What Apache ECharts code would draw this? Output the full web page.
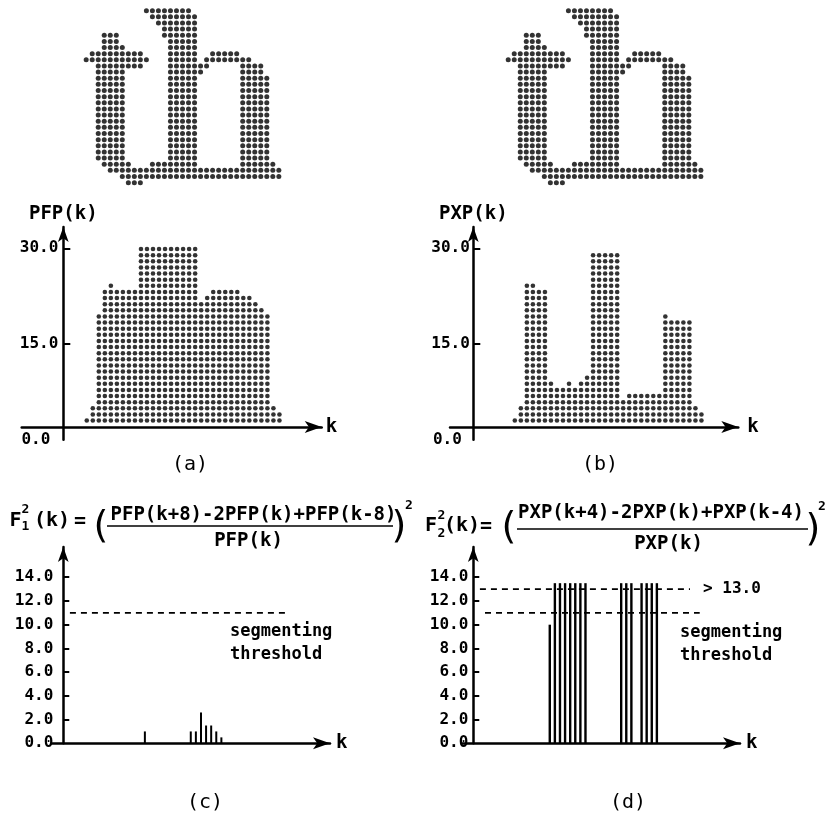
<!DOCTYPE html>
<html><head><meta charset="utf-8">
<script src="https://cdn.jsdelivr.net/npm/echarts@6/dist/echarts.min.js"></script>
<style>html,body{margin:0;padding:0;background:#fff}#c{width:829px;height:827px}</style>
</head><body><div id="c"></div>
<script>
// ---------------- data ----------------
// dot-matrix bitmap of the "th" glyph (# = dot), 33 columns x 29 rows
const GLYPH = [
"..........########...............",
"...........########..............",
"............#######..............",
".............######..............",
"...###.......######..............",
"...###........#####..............",
"...####.......#####..............",
".#########....#####..#####.......",
"###########...#####.########.....",
"..########....#######.....####...",
"..#####.......######......####...",
"..#####.......#####.......#####..",
"..#####.......#####.......#####..",
"..#####.......#####.......#####..",
"..#####.......#####.......#####..",
"..#####.......#####.......#####..",
"..#####.......#####.......#####..",
"..#####.......#####.......#####..",
"..#####.......#####.......#####..",
"..#####.......#####.......#####..",
"..#####.......#####.......#####..",
"..#####.......#####.......#####..",
"..#####.......#####.......#####..",
"..#####.......#####.......#####..",
"..#####.......#####.......#####..",
"...#####...########.......######.",
"....#############################",
"......###########################",
".......###......................."
];
// PFP(k), k = 0..32 (value of column top on the y axis)
const PFP = [2.9, 4.8, 19.7, 23.5, 24.4, 23.5, 23.5, 23.5, 23.5,
             30, 30, 30, 30, 30, 30, 30, 30, 30, 30,
             21.6, 22.5, 23.5, 23.5, 23.5, 23.5, 23.5, 22.5, 22.5,
             21.6, 20.7, 19.7, 4.8, 3.9];
// PXP(k), k = 3..34
const PXP_K0 = 3;
const PXP = [2.9, 4.8, 24.4, 24.4, 23.5, 23.5, 8.5, 7.6, 7.6, 8.5, 7.6, 8.5, 9.5,
             29.1, 29.1, 29.1, 29.1, 29.1, 5.7, 6.7, 6.7, 6.7, 6.7, 6.7, 6.7,
             19.7, 18.8, 17.9, 17.9, 17.9, 4.8, 3.9];
// F1^2(k)
const F1_K = [16, 25, 26, 27, 28, 29, 30, 31];
const F1_V = [1.0, 1.0, 1.0, 2.6, 1.5, 1.5, 1.0, 0.5];
// F2^2(k) (values above 13 are drawn clipped at 13.5)
const F2_K = [15, 16, 17, 18, 19, 20, 21, 22, 29, 30, 31, 33, 34, 35, 36];
const F2_V = [10.0, 13.5, 13.5, 13.5, 13.5, 13.5, 13.5, 13.5, 13.5, 13.5, 13.5, 13.5, 13.5, 13.5, 13.5];
const THRESHOLD = 11.0;
const F2_CAP = 13.0;
// tick labels
const TOP_TICKS = [0, 15, 30];
const BOTTOM_TICKS = [0, 2, 4, 6, 8, 10, 12, 14];

// ---------------- layout / style ----------------
const FONT = "'DejaVu Sans Mono', monospace";
const BASE = 2;          // level where the k axis is drawn in panels (a),(b)
const DOT_FIRST = 3;     // height of the lowest dot row
const DOT_STEP = 0.96;   // dot spacing in y units
const K_SHIFT = 3.9;     // k=0 position relative to the y axis
const GLYPH_SHIFT_A = 3.8, GLYPH_SHIFT_B = 5.8;

function glyphPoints(shift) {
  const pts = [];
  GLYPH.forEach((row, r) => {
    for (let c = 0; c < row.length; c++) if (row[c] === '#') pts.push([c + shift, r]);
  });
  return pts;
}
function histPoints(vals, k0) {
  const pts = [];
  vals.forEach((v, i) => {
    const n = Math.round((v - DOT_FIRST) / DOT_STEP) + 1;
    for (let j = 0; j < n; j++) pts.push([k0 + i + K_SHIFT, DOT_FIRST + j * DOT_STEP - BASE]);
  });
  return pts;
}

const AXLINE = {color: '#000', width: 2.5};
const NAMESTYLE = {fontFamily: FONT, fontWeight: 'bold', fontSize: 19, color: '#000'};
function topX(grid, min, max, gap) {
  return {gridIndex: grid, type: 'value', min, max,
    axisLine: {onZero: true, symbol: ['none', 'arrow'], symbolSize: [9, 17], lineStyle: AXLINE},
    axisTick: {show: false}, axisLabel: {show: false}, splitLine: {show: false},
    name: 'k', nameLocation: 'end', nameGap: gap, nameTextStyle: NAMESTYLE};
}
const TOP_YMAX = 31.34;
function topY(grid, name, margin) {
  return {gridIndex: grid, type: 'value', min: -BASE, max: TOP_YMAX,
    axisLine: {onZero: true, symbol: ['none', 'arrow'], symbolSize: [8, 15], lineStyle: AXLINE},
    axisTick: {inside: true, length: 7, lineStyle: {color: '#000', width: 2},
               customValues: TOP_TICKS.filter(v => v > 0).map(v => v - BASE)},
    axisLabel: {margin, customValues: TOP_TICKS.map(v => v - BASE),
      formatter: v => Math.abs(v + BASE) < 1e-9 ? '{z|0.0}' : (v + BASE).toFixed(1),
      fontFamily: FONT, fontWeight: 'bold', fontSize: 16, color: '#000',
      rich: {z: {fontFamily: FONT, fontWeight: 'bold', fontSize: 16, color: '#000', padding: [0, 8, 0, 0]}}},
    splitLine: {show: false},
    name, nameLocation: 'end', nameGap: 3, nameTextStyle: NAMESTYLE};
}
function botX(grid, gap) {
  return {gridIndex: grid, type: 'value', min: -2.27, max: 52.3,
    axisLine: {onZero: true, symbol: ['none', 'arrow'], symbolSize: [9, 17], lineStyle: AXLINE},
    axisTick: {show: false}, axisLabel: {show: false}, splitLine: {show: false},
    name: 'k', nameLocation: 'end', nameGap: gap, nameTextStyle: NAMESTYLE};
}
function botY(grid, margin) {
  return {gridIndex: grid, type: 'value', min: 0, max: 16.55,
    axisLine: {onZero: true, symbol: ['none', 'arrow'], symbolSize: [8, 15], lineStyle: AXLINE},
    axisTick: {inside: true, length: 6, lineStyle: {color: '#000', width: 2},
               customValues: BOTTOM_TICKS.filter(v => v > 0)},
    axisLabel: {margin, customValues: BOTTOM_TICKS, formatter: v => v.toFixed(1),
      fontFamily: FONT, fontWeight: 'bold', fontSize: 16, color: '#000'},
    splitLine: {show: false}};
}
const hidden = (grid, min, max, inverse) => ({gridIndex: grid, type: 'value', min, max, inverse: !!inverse, show: false});

function T(s, x, y, size, weight, align, family) {
  const f = family || FONT;
  return {type: 'text', x, y, silent: true,
    style: {text: s, fill: '#000', font: `${weight} ${size}px ${f}`,
      align: align, verticalAlign: 'middle', textAlign: align, textVerticalAlign: 'middle'}};
}
function L(x1, y1, x2, y2, w) {
  return {type: 'line', silent: true, shape: {x1, y1, x2, y2}, style: {stroke: '#000', lineWidth: w || 1.6}};
}
const PAREN = "'DejaVu Sans', sans-serif";

const graphics = [
  T('(a)', 190, 465, 20, 'normal', 'center'),
  T('(b)', 600, 465, 20, 'normal', 'center'),
  T('(c)', 205, 803, 20, 'normal', 'center'),
  T('(d)', 628, 803, 20, 'normal', 'center'),
  // formula (c)
  T('F', 15.5, 521, 20, 'bold', 'center'),
  T('2', 25.5, 510, 13, 'bold', 'center'),
  T('1', 25.5, 527, 13, 'bold', 'center'),
  T('(k)', 52, 521, 20, 'bold', 'center'),
  T('=', 80, 522, 20, 'bold', 'center'),
  T('(', 101, 527, 38, 'normal', 'center', PAREN),
  T('PFP(k+8)-2PFP(k)+PFP(k-8)', 253.5, 515, 19, 'bold', 'center'),
  L(107, 526, 393, 526, 1.5),
  T('PFP(k)', 248.5, 541, 19, 'bold', 'center'),
  T(')', 399, 527, 38, 'normal', 'center', PAREN),
  T('2', 409, 506, 13, 'bold', 'center'),
  T('segmenting', 230, 632, 17, 'bold', 'left'),
  T('threshold', 230, 655, 17, 'bold', 'left'),
  // formula (d)
  T('F', 431, 526, 20, 'bold', 'center'),
  T('2', 441.5, 516, 13, 'bold', 'center'),
  T('2', 441.5, 534, 13, 'bold', 'center'),
  T('(k)', 462, 526, 20, 'bold', 'center'),
  T('=', 486, 527, 20, 'bold', 'center'),
  T('(', 509, 528, 38, 'normal', 'center', PAREN),
  T('PXP(k+4)-2PXP(k)+PXP(k-4)', 661, 513, 19, 'bold', 'center'),
  L(517, 529, 808, 529, 1.5),
  T('PXP(k)', 668.5, 544, 19, 'bold', 'center'),
  T(')', 813, 530, 38, 'normal', 'center', PAREN),
  T('2', 822, 507, 13, 'bold', 'center'),
  T('> 13.0', 703, 589, 16, 'bold', 'left'),
  T('segmenting', 680, 633, 17, 'bold', 'left'),
  T('threshold', 680, 656, 17, 'bold', 'left')
];

const G = (left, width, top, height) => ({left, width, top, height, containLabel: false, outerBoundsMode: 'none'});
const dash = {color: '#000', width: 1.8, type: [6, 5]};
const option = {
  animation: false,
  backgroundColor: '#fff',
  grid: [
    G(21.7, 300, 7.6, 178.1),
    G(21.7, 300, 227, 212.7),
    G(450, 288.3, 7.6, 178.1),
    G(450, 288.3, 227, 212.7),
    G(51.7, 278.3, 547, 196.3),
    G(461.7, 278.3, 547, 196.3)
  ],
  xAxis: [
    hidden(0, -6.91, 42.92),
    topX(1, -6.91, 42.92, 4),
    hidden(2, -3.87, 44.02),
    topX(3, -3.87, 44.02, 9),
    botX(4, 6),
    botX(5, 6)
  ],
  yAxis: [
    hidden(0, -0.5, 28.5, true),
    topY(1, 'PFP(k)', 21.7 - 63.3 + 5),
    hidden(2, -0.5, 28.5, true),
    topY(3, 'PXP(k)', 450 - 473.3 + 3.5),
    botY(4, 51.7 - 63.3 + 10),
    botY(5, 461.7 - 473.3 + 5)
  ],
  series: [
    {type: 'scatter', xAxisIndex: 0, yAxisIndex: 0, symbol: 'circle', symbolSize: 5,
     itemStyle: {color: '#000'}, data: glyphPoints(GLYPH_SHIFT_A), silent: true},
    {type: 'scatter', xAxisIndex: 1, yAxisIndex: 1, symbol: 'circle', symbolSize: 4.6,
     itemStyle: {color: '#000'}, data: histPoints(PFP, 0), silent: true},
    {type: 'scatter', xAxisIndex: 2, yAxisIndex: 2, symbol: 'circle', symbolSize: 5,
     itemStyle: {color: '#000'}, data: glyphPoints(GLYPH_SHIFT_B), silent: true},
    {type: 'scatter', xAxisIndex: 3, yAxisIndex: 3, symbol: 'circle', symbolSize: 4.6,
     itemStyle: {color: '#000'}, data: histPoints(PXP, PXP_K0), silent: true},
    {type: 'bar', xAxisIndex: 4, yAxisIndex: 4, barWidth: 2, itemStyle: {color: '#000'},
     data: F1_K.map((k, i) => [k, F1_V[i]]), silent: true},
    {type: 'line', xAxisIndex: 4, yAxisIndex: 4, symbol: 'none', lineStyle: dash,
     data: [[1.3, THRESHOLD], [43.5, THRESHOLD]], silent: true},
    {type: 'bar', xAxisIndex: 5, yAxisIndex: 5, barWidth: 2.4, itemStyle: {color: '#000'},
     data: F2_K.map((k, i) => [k, F2_V[i]]), silent: true},
    {type: 'line', xAxisIndex: 5, yAxisIndex: 5, symbol: 'none', lineStyle: dash,
     data: [[1.3, F2_CAP], [42.5, F2_CAP]], silent: true},
    {type: 'line', xAxisIndex: 5, yAxisIndex: 5, symbol: 'none', lineStyle: dash,
     data: [[2.3, THRESHOLD], [44.4, THRESHOLD]], silent: true}
  ],
  graphic: graphics
};
const chart = echarts.init(document.getElementById('c'));
chart.setOption(option);
</script>
</body></html>
